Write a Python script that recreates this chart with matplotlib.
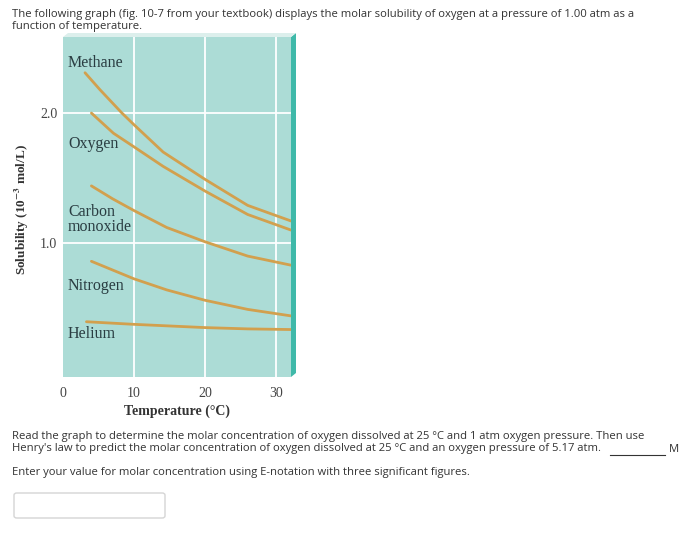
import matplotlib.pyplot as plt
import matplotlib.patches as mpatches

plt.rcParams['mathtext.fontset'] = 'stix'

# wartosci (temperatura w C, rozpuszczalnosc w 10^-3 mol/L)
methane_t = [3.1, 5.2, 8.3, 10, 14.1, 20, 26, 32.1]
methane_s = [2.31, 2.18, 2.00, 1.91, 1.70, 1.49, 1.29, 1.17]
oxygen_t = [4.0, 7.1, 10, 14.1, 20, 26, 32.1]
oxygen_s = [2.00, 1.845, 1.74, 1.59, 1.40, 1.22, 1.10]
co_t = [4.0, 7.0, 10, 14.6, 20, 26, 32.1]
co_s = [1.44, 1.34, 1.25, 1.12, 1.01, 0.90, 0.83]
nitrogen_t = [4.0, 10, 14.6, 20, 26, 32.1]
nitrogen_s = [0.86, 0.725, 0.64, 0.56, 0.49, 0.44]
helium_t = [3.3, 10, 20, 26, 32.1]
helium_s = [0.395, 0.375, 0.35, 0.34, 0.335]

x_ticks = [0, 10, 20, 30]
y_ticks = [1.0, 2.0]
y_tick_labels = ['1.0', '2.0']

W, H = 700, 535
fig = plt.figure(figsize=(7, 5.35), dpi=100)
fig.patch.set_facecolor('white')

def px(x, y):
    return (x / W, 1 - y / H)

# os wykresu
L, R, T, B = 63, 291, 37, 377
ax = fig.add_axes([L / W, 1 - B / H, (R - L) / W, (B - T) / H])
ax.set_facecolor('#acdcd6')
ax.set_xlim(0, 32.1)
ax.set_ylim(-0.03, 2.585)
for s in ax.spines.values():
    s.set_visible(False)

for xv in x_ticks[1:]:
    ax.axvline(xv, color='white', lw=1.3, zorder=1)
for yv in y_ticks:
    ax.axhline(yv, color='white', lw=1.3, zorder=1)

curve_color = '#d2a04e'
for tt, ss in [(methane_t, methane_s), (oxygen_t, oxygen_s), (co_t, co_s),
               (nitrogen_t, nitrogen_s), (helium_t, helium_s)]:
    ax.plot(tt, ss, color=curve_color, lw=2.0, solid_capstyle='round',
            solid_joinstyle='round', zorder=3)

ax.set_xticks(x_ticks)
ax.set_xticklabels([str(v) for v in x_ticks])
ax.set_yticks(y_ticks)
ax.set_yticklabels(y_tick_labels)
ax.tick_params(length=0, labelsize=10, labelcolor='#444444')
ax.tick_params(axis='x', pad=7)
ax.tick_params(axis='y', pad=4)
for lab in ax.get_xticklabels() + ax.get_yticklabels():
    lab.set_family('Liberation Serif')

lab_kw = dict(family='Liberation Serif', fontsize=11.5, color='#2a3d42',
              va='center', ha='left', zorder=4)
ax.text(0.7, 2.385, 'Methane', **lab_kw)
ax.text(0.7, 1.76, 'Oxygen', **lab_kw)
ax.text(0.7, 1.18, 'Carbon\nmonoxide', linespacing=0.95, **lab_kw)
ax.text(0.7, 0.67, 'Nitrogen', **lab_kw)
ax.text(0.7, 0.30, 'Helium', **lab_kw)

# efekt 3D - prawa i gorna krawedz
fig.add_artist(mpatches.Polygon([px(R, T), px(R + 5, T - 4), px(R + 5, B - 4), px(R, B)],
                                closed=True, fc='#3fb9a9', ec='none',
                                transform=fig.transFigure))
fig.add_artist(mpatches.Polygon([px(L, T), px(L + 5, T - 4), px(R + 5, T - 4), px(R, T)],
                                closed=True, fc='#dcefec', ec='none',
                                transform=fig.transFigure))

fig.text(*px(22, 210), r'Solubility (10$^{\mathbf{-3}}$ mol/L)', rotation=90,
         ha='center', va='center', family='Liberation Serif', fontweight='bold',
         fontsize=9.5, color='#333333')
fig.text(*px(177, 411), 'Temperature (°C)', ha='center', va='center',
         family='Liberation Serif', fontweight='bold', fontsize=10, color='#333333')

# tekst pytania
txt_kw = dict(family='Open Sans', fontsize=8.1, color='#333333', va='center', ha='left')
fig.text(*px(12, 14), 'The following graph (fig. 10-7 from your textbook) displays the molar '
         'solubility of oxygen at a pressure of 1.00 atm as a', **txt_kw)
fig.text(*px(12, 27), 'function of temperature.', **txt_kw)
fig.text(*px(12, 436), 'Read the graph to determine the molar concentration of oxygen dissolved '
         'at 25 °C and 1 atm oxygen pressure. Then use', **txt_kw)
fig.text(*px(12, 449), "Henry's law to predict the molar concentration of oxygen dissolved at "
         "25 °C and an oxygen pressure of 5.17 atm.", **txt_kw)
fig.text(*px(669, 449), 'M', **txt_kw)
fig.text(*px(12, 473), 'Enter your value for molar concentration using E-notation with three '
         'significant figures.', **txt_kw)
fig.add_artist(plt.Line2D([610 / W, 665 / W], [1 - 455 / H, 1 - 455 / H],
                          color='#333333', lw=0.8, transform=fig.transFigure))
fig.add_artist(mpatches.FancyBboxPatch((14 / W, 1 - 518 / H), 151 / W, 25 / H,
                                       boxstyle='round,pad=0,rounding_size=0.004',
                                       fc='white', ec='#d5d5d5', lw=1,
                                       transform=fig.transFigure))

fig.savefig('out.png', dpi=100)
